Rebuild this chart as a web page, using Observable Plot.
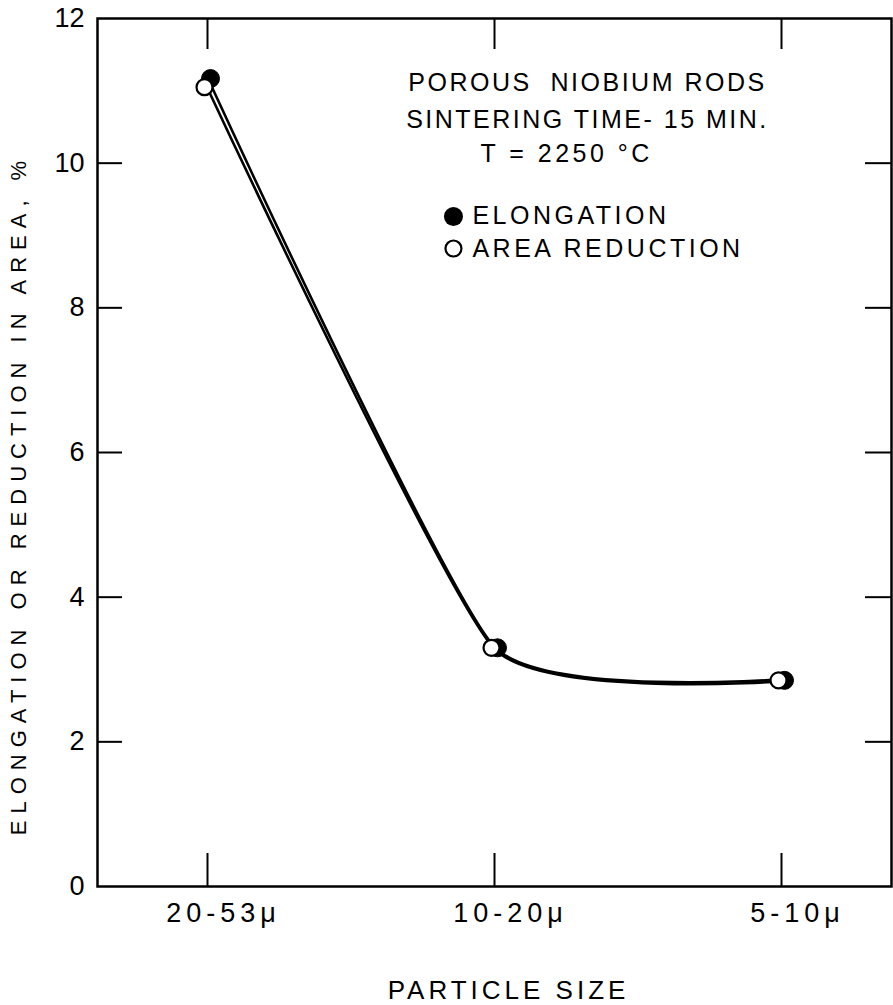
<!DOCTYPE html>
<html><head><meta charset="utf-8">
<script src="https://cdn.jsdelivr.net/npm/d3@7"></script>
<script src="https://cdn.jsdelivr.net/npm/@observablehq/plot@0.6"></script>
<style>
body{margin:0;background:#fff}
svg{display:block}
g[aria-label="x-axis tick label"]{font-size:27px}
g[aria-label="x-axis tick label"] text{letter-spacing:5px}
g[aria-label="y-axis tick label"]{font-size:27px}
g[aria-description="ylabel"] text{letter-spacing:7px}
g[aria-description="xlabel"] text{letter-spacing:4px}
g[aria-description="note"] text{letter-spacing:2.5px}
g[aria-description="temp"] text{letter-spacing:3.5px}
g[aria-description="legend-text"] text{letter-spacing:3.5px}
</style>
</head><body><div id="chart"></div>
<script>
// ---- data ----
const sizeLabels = ["20-53μ", "10-20μ", "5-10μ"];
const sizeIndex = [0, 1, 2];
const elongation = [11.17, 3.3, 2.85];
const areaReduction = [11.05, 3.3, 2.85];
const yTickValues = [0, 2, 4, 6, 8, 10, 12];
const yInnerTicks = [2, 4, 6, 8, 10];
const noteLines = ["POROUS  NIOBIUM RODS", "SINTERING TIME- 15 MIN."];
const noteTemp = "T = 2250 °C";
const legendLabels = ["ELONGATION", "AREA REDUCTION"];
const yTitle = "ELONGATION OR REDUCTION IN AREA, %";
const xTitle = "PARTICLE SIZE";

// ---- layout ----
const W = 893, H = 1005;
const mT = 18, mB = 119, mL = 97, mR = 2;
const fw = W - mL - mR, fh = H - mT - mB;

const elong = sizeIndex.map((i) => ({x: i, y: elongation[i]}));
const area = sizeIndex.map((i) => ({x: i, y: areaReduction[i]}));

const font = "Liberation Sans, Arial, sans-serif";

const plot = Plot.plot({
  width: W, height: H,
  marginTop: mT, marginBottom: mB, marginLeft: mL, marginRight: mR,
  style: {fontFamily: font, color: "#000", background: "#fff"},
  x: {domain: [-110 / 287, 684 / 287]},
  y: {domain: [0, 12]},
  marks: [
    Plot.frame({stroke: "#000", strokeWidth: 2.5}),
    // inward ticks
    Plot.tickY(yInnerTicks, {y: (d) => d, insetRight: fw - 25, stroke: "#000", strokeWidth: 2}),
    Plot.tickY(yInnerTicks, {y: (d) => d, insetLeft: fw - 26, stroke: "#000", strokeWidth: 2}),
    Plot.tickX(sizeIndex, {x: (d) => d, insetTop: fh - 33, stroke: "#000", strokeWidth: 2}),
    Plot.tickX(sizeIndex, {x: (d) => d, insetBottom: fh - 31, stroke: "#000", strokeWidth: 2}),
    Plot.axisY(yTickValues, {tickSize: 0, tickPadding: 13, tickFormat: "d", label: null}),
    Plot.axisX(sizeIndex, {tickSize: 0, tickPadding: 16, dx: 16, label: null,
      tickFormat: (d) => sizeLabels[d]}),
    // curves
    Plot.line(elong, {x: "x", y: "y", curve: "cardinal", tension: 0.5, stroke: "#000", strokeWidth: 2.6, dy: -1}),
    Plot.line(area, {x: "x", y: "y", curve: "cardinal", tension: 0.5, stroke: "#000", strokeWidth: 2.6, dy: 1}),
    // points
    Plot.dot(elong, {x: "x", y: "y", r: 9, fill: "#000", stroke: "#000", strokeWidth: 1, dx: 3}),
    Plot.dot(area, {x: "x", y: "y", r: 8, fill: "#fff", stroke: "#000", strokeWidth: 2.2, dx: -3}),
    // annotations
    Plot.text(noteLines, {x: 1.324, y: (d, i) => [11.115, 10.6][i], text: (d) => d, fontSize: 25,
      textAnchor: "middle", ariaDescription: "note"}),
    Plot.text([noteTemp], {x: 0.951, y: 10.12, text: (d) => d, fontSize: 25, textAnchor: "start", ariaDescription: "temp"}),
    Plot.dot([legendLabels[0]], {x: 0.857, y: 9.263, r: 9.5, fill: "#000"}),
    Plot.dot([legendLabels[1]], {x: 0.857, y: 8.82, r: 8, fill: "#fff", stroke: "#000", strokeWidth: 2.2}),
    Plot.text(legendLabels, {x: 0.923, y: (d, i) => [9.263, 8.82][i], text: (d) => d, fontSize: 25,
      textAnchor: "start", ariaDescription: "legend-text"}),
    // axis titles
    Plot.text([yTitle], {frameAnchor: "left", textAnchor: "middle", lineAnchor: "middle", rotate: -90,
      dx: -79, dy: 42, text: (d) => d, fontSize: 22, ariaDescription: "ylabel"}),
    Plot.text([xTitle], {frameAnchor: "bottom", textAnchor: "middle", dx: 14, dy: 112, text: (d) => d, fontSize: 26,
      ariaDescription: "xlabel"})
  ]
});
document.getElementById("chart").appendChild(plot);
</script>
</body></html>
